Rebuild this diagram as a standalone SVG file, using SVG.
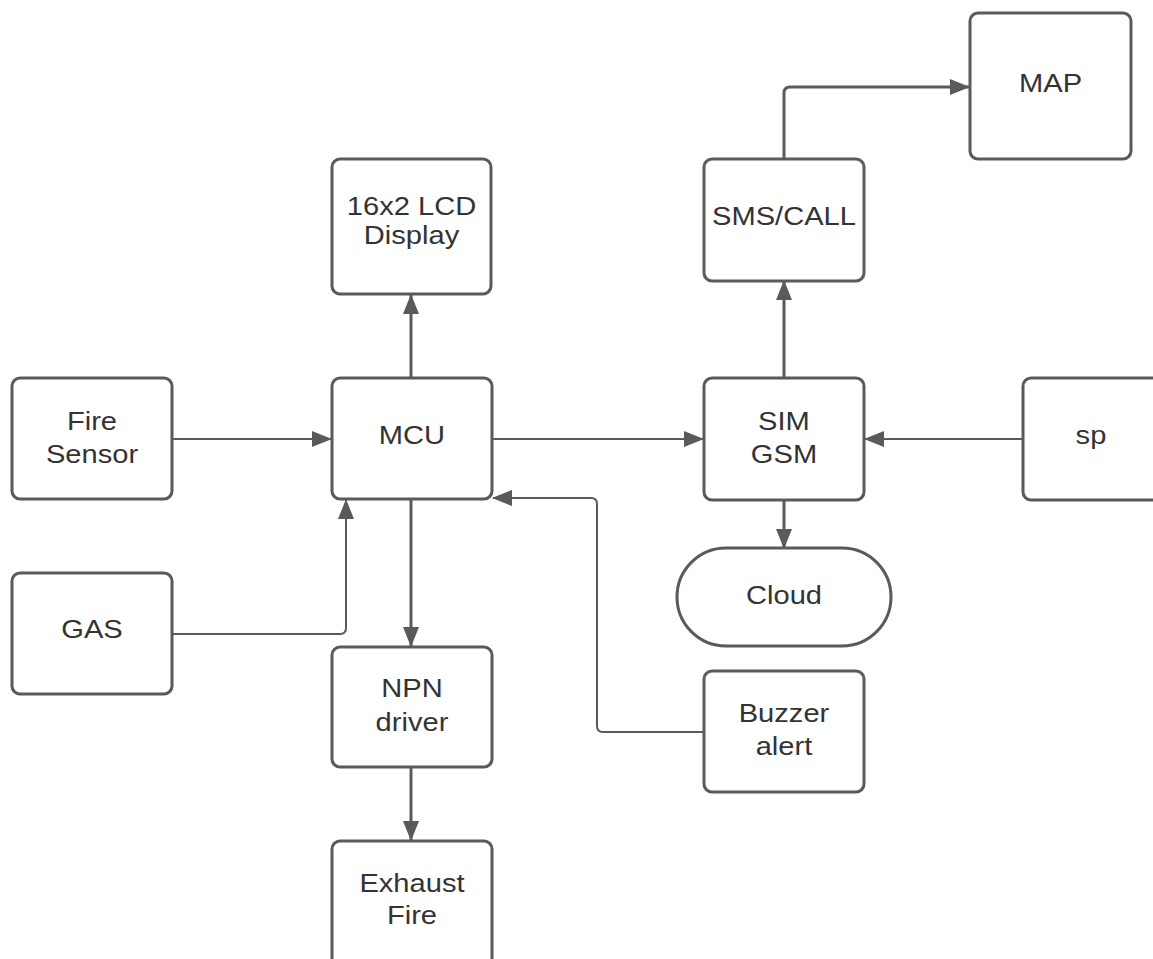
<svg xmlns="http://www.w3.org/2000/svg" width="1153" height="959" viewBox="0 0 1153 959">
<style>
.box{fill:#fff;stroke:#5a5a5a;stroke-width:3}
.t{font-family:"Liberation Sans",Arial,sans-serif;font-size:26px;fill:#333;text-anchor:middle}
.c{fill:none;stroke:#5a5a5a;stroke-linejoin:round}
.thin{stroke-width:2}
.thick{stroke-width:3}
</style>
<defs>
<marker id="ah" markerUnits="userSpaceOnUse" markerWidth="20" markerHeight="16" refX="19" refY="8" orient="auto">
<path d="M0,0 L20,8 L0,16 Z" fill="#5a5a5a"/>
</marker>
</defs>
<rect width="1153" height="959" fill="#fff"/>
<g id="connectors">
<path class="c thin" d="M172,439 H331" marker-end="url(#ah)"/>
<path class="c thin" d="M492,439 H703" marker-end="url(#ah)"/>
<path class="c thin" d="M1023,439 H865" marker-end="url(#ah)"/>
<path class="c thick" d="M411,378 V295" marker-end="url(#ah)"/>
<path class="c thick" d="M784,378 V281" marker-end="url(#ah)"/>
<path class="c thick" d="M784,159 V93 Q784,87 790,87 H969" marker-end="url(#ah)"/>
<path class="c thick" d="M784,500 V548" marker-end="url(#ah)"/>
<path class="c thick" d="M411,499 V646" marker-end="url(#ah)"/>
<path class="c thick" d="M411,767 V840" marker-end="url(#ah)"/>
<path class="c thin" d="M172,634 H340 Q346,634 346,628 V500" marker-end="url(#ah)"/>
<path class="c thin" d="M703,732 H603 Q597,732 597,726 V504 Q597,498 591,498 H493" marker-end="url(#ah)"/>
</g>
<g id="lcd"><rect class="box" x="332" y="159" width="159" height="135" rx="8"/><g transform="translate(411.5,0) scale(1.12,1)"><text class="t" x="0" y="215">16x2 LCD</text><text class="t" x="0" y="244">Display</text></g></g>
<g id="fire-sensor"><rect class="box" x="12" y="378" width="160" height="121" rx="8"/><g transform="translate(92,0) scale(1.12,1)"><text class="t" x="0" y="430">Fire</text><text class="t" x="0" y="463">Sensor</text></g></g>
<g id="mcu"><rect class="box" x="332" y="378" width="160" height="121" rx="8"/><g transform="translate(412,0) scale(1.12,1)"><text class="t" x="0" y="444">MCU</text></g></g>
<g id="sim-gsm"><rect class="box" x="704" y="378" width="160" height="122" rx="8"/><g transform="translate(784,0) scale(1.12,1)"><text class="t" x="0" y="430">SIM</text><text class="t" x="0" y="463">GSM</text></g></g>
<g id="sp"><rect class="box" x="1023" y="378" width="160" height="122" rx="8"/><g transform="translate(1091,0) scale(1.12,1)"><text class="t" x="0" y="444">sp</text></g></g>
<g id="cloud"><rect class="box" x="677" y="548" width="214" height="98" rx="49"/><g transform="translate(784,0) scale(1.12,1)"><text class="t" x="0" y="604">Cloud</text></g></g>
<g id="gas"><rect class="box" x="12" y="573" width="160" height="121" rx="8"/><g transform="translate(92,0) scale(1.12,1)"><text class="t" x="0" y="638">GAS</text></g></g>
<g id="npn"><rect class="box" x="332" y="647" width="160" height="120" rx="8"/><g transform="translate(412,0) scale(1.12,1)"><text class="t" x="0" y="697">NPN</text><text class="t" x="0" y="731">driver</text></g></g>
<g id="buzzer"><rect class="box" x="704" y="671" width="160" height="121" rx="8"/><g transform="translate(784,0) scale(1.12,1)"><text class="t" x="0" y="722">Buzzer</text><text class="t" x="0" y="755">alert</text></g></g>
<g id="exhaust"><rect class="box" x="332" y="841" width="160" height="125" rx="8"/><g transform="translate(412,0) scale(1.12,1)"><text class="t" x="0" y="892">Exhaust</text><text class="t" x="0" y="924">Fire</text></g></g>
<g id="sms-call"><rect class="box" x="704" y="159" width="160" height="122" rx="8"/><g transform="translate(784,0) scale(1.12,1)"><text class="t" x="0" y="225">SMS/CALL</text></g></g>
<g id="map"><rect class="box" x="970" y="13" width="161" height="146" rx="8"/><g transform="translate(1050.5,0) scale(1.12,1)"><text class="t" x="0" y="92">MAP</text></g></g>
</svg>
